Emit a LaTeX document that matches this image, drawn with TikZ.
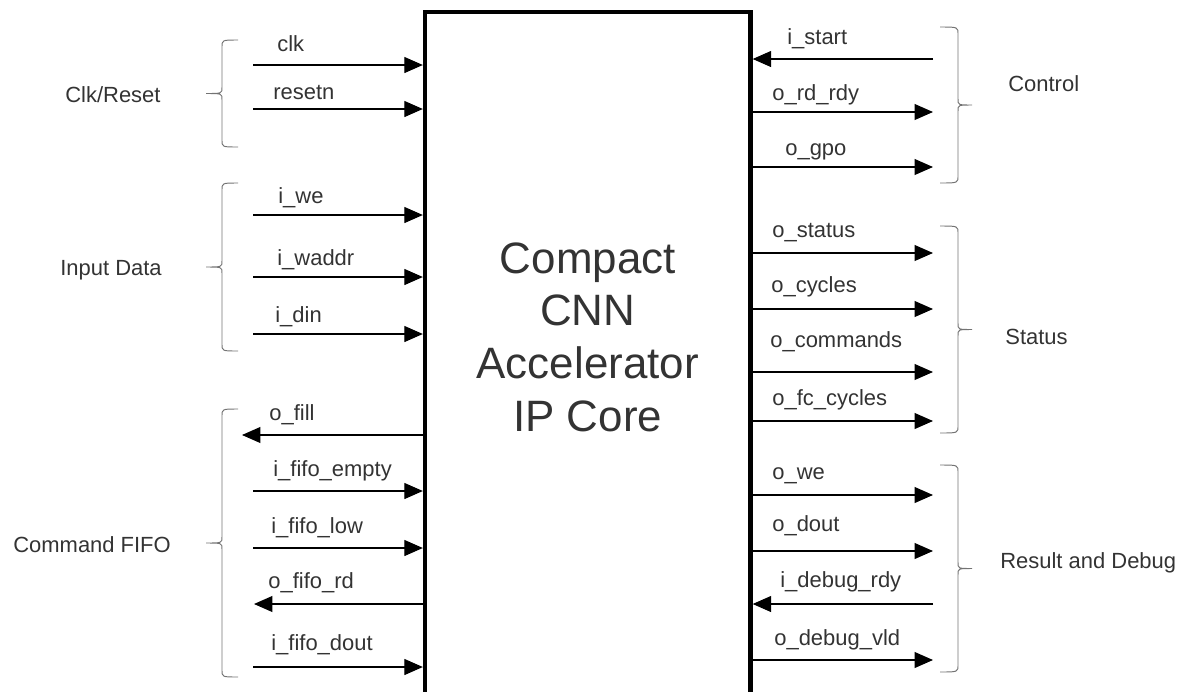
\documentclass[tikz,border=0pt]{standalone}
\usepackage{fontspec}
\setmainfont{Liberation Sans}
\usetikzlibrary{arrows.meta}
\tikzstyle{sig}=[draw=black, line width=0.65pt, >={Triangle[length=3.7mm,width=3.2mm]}]
\tikzstyle{lbl}=[anchor=base west, inner sep=0pt, text=black!80, font=\fontsize{12.5}{15}\selectfont]
\tikzstyle{brc}=[draw=black!55, line width=0.55pt]

\begin{document}
\begin{tikzpicture}[x=0.02cm,y=-0.02cm]
\useasboundingbox (0,0) rectangle (1188,691);

% the core block, open at the bottom of the page
\node[draw, line width=2.5pt, minimum width=6.51cm, minimum height=14.2cm, inner sep=0pt] (core) at (587.75,367) {};
\node[align=center, inner sep=0pt, text=black!80, font=\fontsize{25}{30}\selectfont] (title) at (587.75,337) {Compact\\CNN\\Accelerator\\IP Core};

% left side, into the core
\foreach \nm/\txt/\yy/\lx/\ly in {
	clk/clk/65/277/51,
	rst/resetn/109/273/99,
	iwe/i\_we/215/278/203,
	iwaddr/i\_waddr/277/277/265,
	idin/i\_din/334/275/322,
	fempty/i\_fifo\_empty/491/273/476,
	flow/i\_fifo\_low/548/271/533,
	fdout/i\_fifo\_dout/667/271/650} {
	\coordinate (\nm) at (253,\yy);
	\draw[sig,->] (\nm) -- (\nm -| core.west);
	\node[lbl] (\nm-l) at (\lx,\ly) {\txt};
}
% left side, out of the core
\foreach \nm/\txt/\xx/\yy/\lx/\ly in {
	ofill/o\_fill/242/435/269/420,
	frd/o\_fifo\_rd/254/604/268/588} {
	\coordinate (\nm) at (\xx,\yy);
	\draw[sig,->] (\nm -| core.west) -- (\nm);
	\node[lbl] (\nm-l) at (\lx,\ly) {\txt};
}

% right side, out of the core
\foreach \nm/\txt/\yy/\lx/\ly in {
	rdrdy/o\_rd\_rdy/112/772/100,
	gpo/o\_gpo/167/785/155,
	status/o\_status/253/772/237,
	cycles/o\_cycles/309/771/292,
	cmds/o\_commands/372/770/347,
	fccyc/o\_fc\_cycles/421/772/405,
	owe/o\_we/495/772/479,
	dout/o\_dout/551/772/531,
	dbgvld/o\_debug\_vld/660/774/645} {
	\coordinate (\nm) at (933,\yy);
	\draw[sig,->] (\nm -| core.east) -- (\nm);
	\node[lbl] (\nm-l) at (\lx,\ly) {\txt};
}
% right side, into the core
\foreach \nm/\txt/\yy/\lx/\ly in {
	start/i\_start/59/787/44,
	dbgrdy/i\_debug\_rdy/604/780/587} {
	\coordinate (\nm) at (933,\yy);
	\draw[sig,->] (\nm) -- (\nm -| core.east);
	\node[lbl] (\nm-l) at (\lx,\ly) {\txt};
}

% group braces
\foreach \bx/\hx/\tx/\bt/\bb in {
	222/238/206/40/147,
	222/238/206/183/351,
	222/238/206/409/677,
	958/940/972/27/183,
	958/940/972/226/433,
	958/940/972/465/672} {
	\pgfmathsetmacro\bm{(\bt+\bb)/2}
	\draw[brc] (\hx,\bt) .. controls (\bx,\bt) .. (\bx,\bt+7) -- (\bx,\bm-6)
		.. controls (\bx,\bm) .. (\tx,\bm) .. controls (\bx,\bm) .. (\bx,\bm+6)
		-- (\bx,\bb-7) .. controls (\bx,\bb) .. (\hx,\bb);
}

\node[lbl] (clkgrp) at (65,102) {Clk/Reset};
\node[lbl] (datagrp) at (60,275) {Input Data};
\node[lbl] (fifogrp) at (13,552) {Command FIFO};
\node[lbl] (ctrlgrp) at (1008,91) {Control};
\node[lbl] (statgrp) at (1005,344) {Status};
\node[lbl] (dbggrp) at (1000,568) {Result and Debug};
\end{tikzpicture}
\end{document}
